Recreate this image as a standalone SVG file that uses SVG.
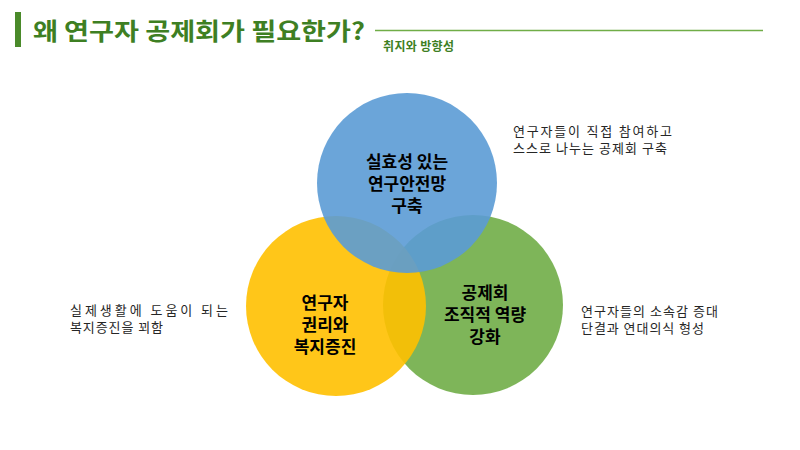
<svg xmlns="http://www.w3.org/2000/svg" width="800" height="450" viewBox="0 0 800 450">
<style>
.title{font-family:"Noto Sans CJK KR","Noto Sans",sans-serif;font-weight:bold;fill:#3E7F23}
.body{font-family:"Noto Sans CJK KR","Noto Sans",sans-serif;font-size:13px;fill:#262626}
.lbl{font-family:"Noto Sans CJK KR","Noto Sans",sans-serif;font-size:17px;font-weight:bold;fill:#000;text-anchor:middle}
.c{opacity:0.9}
</style>
<rect width="800" height="450" fill="#fff"/>
<g id="header">
<rect x="15" y="12" width="6" height="35" fill="#4A8A2A"/>
<text class="title" x="33" y="40" font-size="24" textLength="332" lengthAdjust="spacingAndGlyphs">왜 연구자 공제회가 필요한가?</text>
<line x1="375" y1="30.5" x2="763" y2="30.5" stroke="#70AD47" stroke-width="1.5"/>
<text class="title" x="383" y="51" font-size="12" textLength="71" lengthAdjust="spacing">취지와 방향성</text>
</g>
<g id="connectors"></g>
<g id="node-green">
<circle class="c" cx="473" cy="305" r="90" fill="#70AD47"/>
</g>
<g id="node-yellow">
<circle class="c" cx="336" cy="306" r="90" fill="#FFC000"/>
</g>
<g id="node-blue">
<circle class="c" cx="407" cy="183" r="90" fill="#5B9BD5"/>
</g>
<g id="labels">
<text class="lbl"><tspan x="407" y="168">실효성 있는</tspan><tspan x="407" y="190">연구안전망</tspan><tspan x="407" y="212">구축</tspan></text>
<text class="lbl"><tspan x="325" y="309">연구자</tspan><tspan x="325" y="331">권리와</tspan><tspan x="325" y="353">복지증진</tspan></text>
<text class="lbl"><tspan x="485" y="299">공제회</tspan><tspan x="485" y="321">조직적 역량</tspan><tspan x="485" y="343">강화</tspan></text>
</g>
<g id="notes">
<text class="body"><tspan x="513" y="136" textLength="159" lengthAdjust="spacing">연구자들이 직접 참여하고</tspan><tspan x="513" y="153" textLength="154" lengthAdjust="spacing">스스로 나누는 공제회 구축</tspan></text>
<text class="body"><tspan x="70" y="315" textLength="158" lengthAdjust="spacing">실제생활에 도움이 되는</tspan><tspan x="70" y="332" textLength="93" lengthAdjust="spacing">복지증진을 꾀함</tspan></text>
<text class="body"><tspan x="581" y="316" textLength="137" lengthAdjust="spacing">연구자들의 소속감 증대</tspan><tspan x="581" y="333" textLength="123" lengthAdjust="spacing">단결과 연대의식 형성</tspan></text>
</g>
</svg>
